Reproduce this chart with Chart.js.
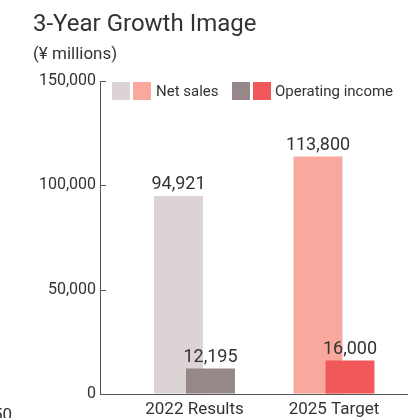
<!DOCTYPE html>
<html>
<head>
<meta charset="utf-8">
<script src="https://cdn.jsdelivr.net/npm/chart.js@4.4.1/dist/chart.umd.min.js"></script>
<style>
    html, body { margin: 0; padding: 0; background: #fff; }
    body { position: relative; width: 408px; height: 418px; overflow: hidden; font-family: Roboto, "Noto Sans", sans-serif; color: #333; }
    #chart { position: absolute; left: 0; top: 0; }
    .txt { position: absolute; white-space: nowrap; line-height: 1; }
    .title { left: 33px; top: 11px; font-size: 24px; }
    .unit { left: 33px; top: 45px; font-size: 17px; }
    .swatch { position: absolute; top: 82px; width: 18px; height: 18px; }
    .legend-text { top: 84px; font-size: 15px; }
    .edge-fragment { left: -7px; top: 406px; font-size: 17px; }
</style>
</head>
<body>
<canvas id="chart" width="408" height="418"></canvas>
<div class="txt title">3-Year Growth Image</div>
<div class="txt unit">(¥ millions)</div>
<div id="legend"></div>
<div class="txt edge-fragment">50</div>
<script>
    const categories = ['2022 Results', '2025 Target'];
    const netSales = [94921, 113800];
    const operatingIncome = [12195, 16000];
    const netSalesColors = ['#dcd4d4', '#f8a89c'];
    const operatingIncomeColors = ['#968888', '#f0585a'];
    const yTicks = [0, 50000, 100000, 150000];

    const textColor = '#333';
    const axisColor = '#555';

    function formatNumber(v) {
        return Number(v).toLocaleString('en-US');
    }

    function buildPoints(values) {
        return values.map((v, i) => ({ x: i + 1, y: v }));
    }

    function renderLegend() {
        const legend = document.getElementById('legend');
        const items = [
            { label: 'Net sales', colors: netSalesColors, left: 112, textLeft: 156 },
            { label: 'Operating income', colors: operatingIncomeColors, left: 232, textLeft: 275 }
        ];
        legend.innerHTML = items.map(item => `
            <span class="swatch" style="left:${item.left}px; background:${item.colors[0]};"></span>
            <span class="swatch" style="left:${item.left + 21}px; background:${item.colors[1]};"></span>
            <span class="txt legend-text" style="left:${item.textLeft}px;">${item.label}</span>
        `).join('');
    }

    // net sales sits behind operating income where the bars overlap
    const salesBehind = {
        id: 'salesBehind',
        beforeDatasetsDraw(chart) {
            chart.getDatasetMeta(0).controller.draw();
        },
        beforeDatasetDraw(chart, args) {
            if (args.index === 0) return false;
        }
    };

    // tick marks point into the plot, starting at the axis line
    const innerTicks = {
        id: 'innerTicks',
        afterDraw(chart) {
            const ctx = chart.ctx;
            const yScale = chart.scales.y;
            const left = chart.chartArea.left;
            ctx.save();
            ctx.strokeStyle = axisColor;
            ctx.lineWidth = 1;
            ctx.beginPath();
            yTicks.forEach(v => {
                const y = Math.round(yScale.getPixelForValue(v)) + 0.5;
                ctx.moveTo(left, y);
                ctx.lineTo(left + 6, y);
            });
            ctx.stroke();
            ctx.restore();
        }
    };

    const valueLabels = {
        id: 'valueLabels',
        afterDatasetsDraw(chart) {
            const ctx = chart.ctx;
            ctx.save();
            ctx.font = '18px Roboto, "Noto Sans", sans-serif';
            ctx.fillStyle = textColor;
            ctx.textAlign = 'center';
            ctx.textBaseline = 'alphabetic';
            chart.data.datasets.forEach((ds, dsIdx) => {
                chart.getDatasetMeta(dsIdx).data.forEach((bar, i) => {
                    ctx.fillText(formatNumber(ds.data[i].y), bar.x, bar.y - 7);
                });
            });
            ctx.restore();
        }
    };

    renderLegend();

    new Chart(document.getElementById('chart'), {
        type: 'bar',
        data: {
            datasets: [
                {
                    label: 'Net sales',
                    data: buildPoints(netSales),
                    backgroundColor: netSalesColors
                },
                {
                    label: 'Operating income',
                    data: buildPoints(operatingIncome),
                    backgroundColor: operatingIncomeColors
                }
            ]
        },
        options: {
            responsive: false,
            animation: false,
            devicePixelRatio: 1,
            categoryPercentage: 0.4588,
            barPercentage: 1.53,
            layout: { padding: { top: 81, left: 0, right: 0, bottom: 0 } },
            plugins: {
                legend: { display: false },
                tooltip: { enabled: false }
            },
            scales: {
                x: {
                    type: 'linear',
                    min: 0.3226,
                    max: 2.5305,
                    offset: false,
                    afterBuildTicks(axis) {
                        axis.ticks = categories.map((_, i) => ({ value: i + 1 }));
                    },
                    afterFit(axis) {
                        axis.height = 24;
                    },
                    grid: { display: true, offset: false, drawOnChartArea: false, drawTicks: false },
                    border: { color: axisColor, width: 1 },
                    ticks: {
                        autoSkip: false,
                        maxRotation: 0,
                        padding: 6,
                        color: textColor,
                        font: { family: 'Roboto', size: 17 },
                        callback: (value, index) => categories[index]
                    }
                },
                y: {
                    min: 0,
                    max: 150000,
                    afterBuildTicks(axis) {
                        axis.ticks = yTicks.map(v => ({ value: v }));
                    },
                    afterFit(axis) {
                        axis.width = 100;
                    },
                    grid: { display: true, drawOnChartArea: false, drawTicks: false },
                    border: { color: axisColor, width: 1 },
                    ticks: {
                        padding: 4,
                        color: textColor,
                        font: { family: 'Roboto', size: 16 },
                        callback: v => formatNumber(v)
                    }
                }
            }
        },
        plugins: [salesBehind, innerTicks, valueLabels]
    });
</script>
</body>
</html>
